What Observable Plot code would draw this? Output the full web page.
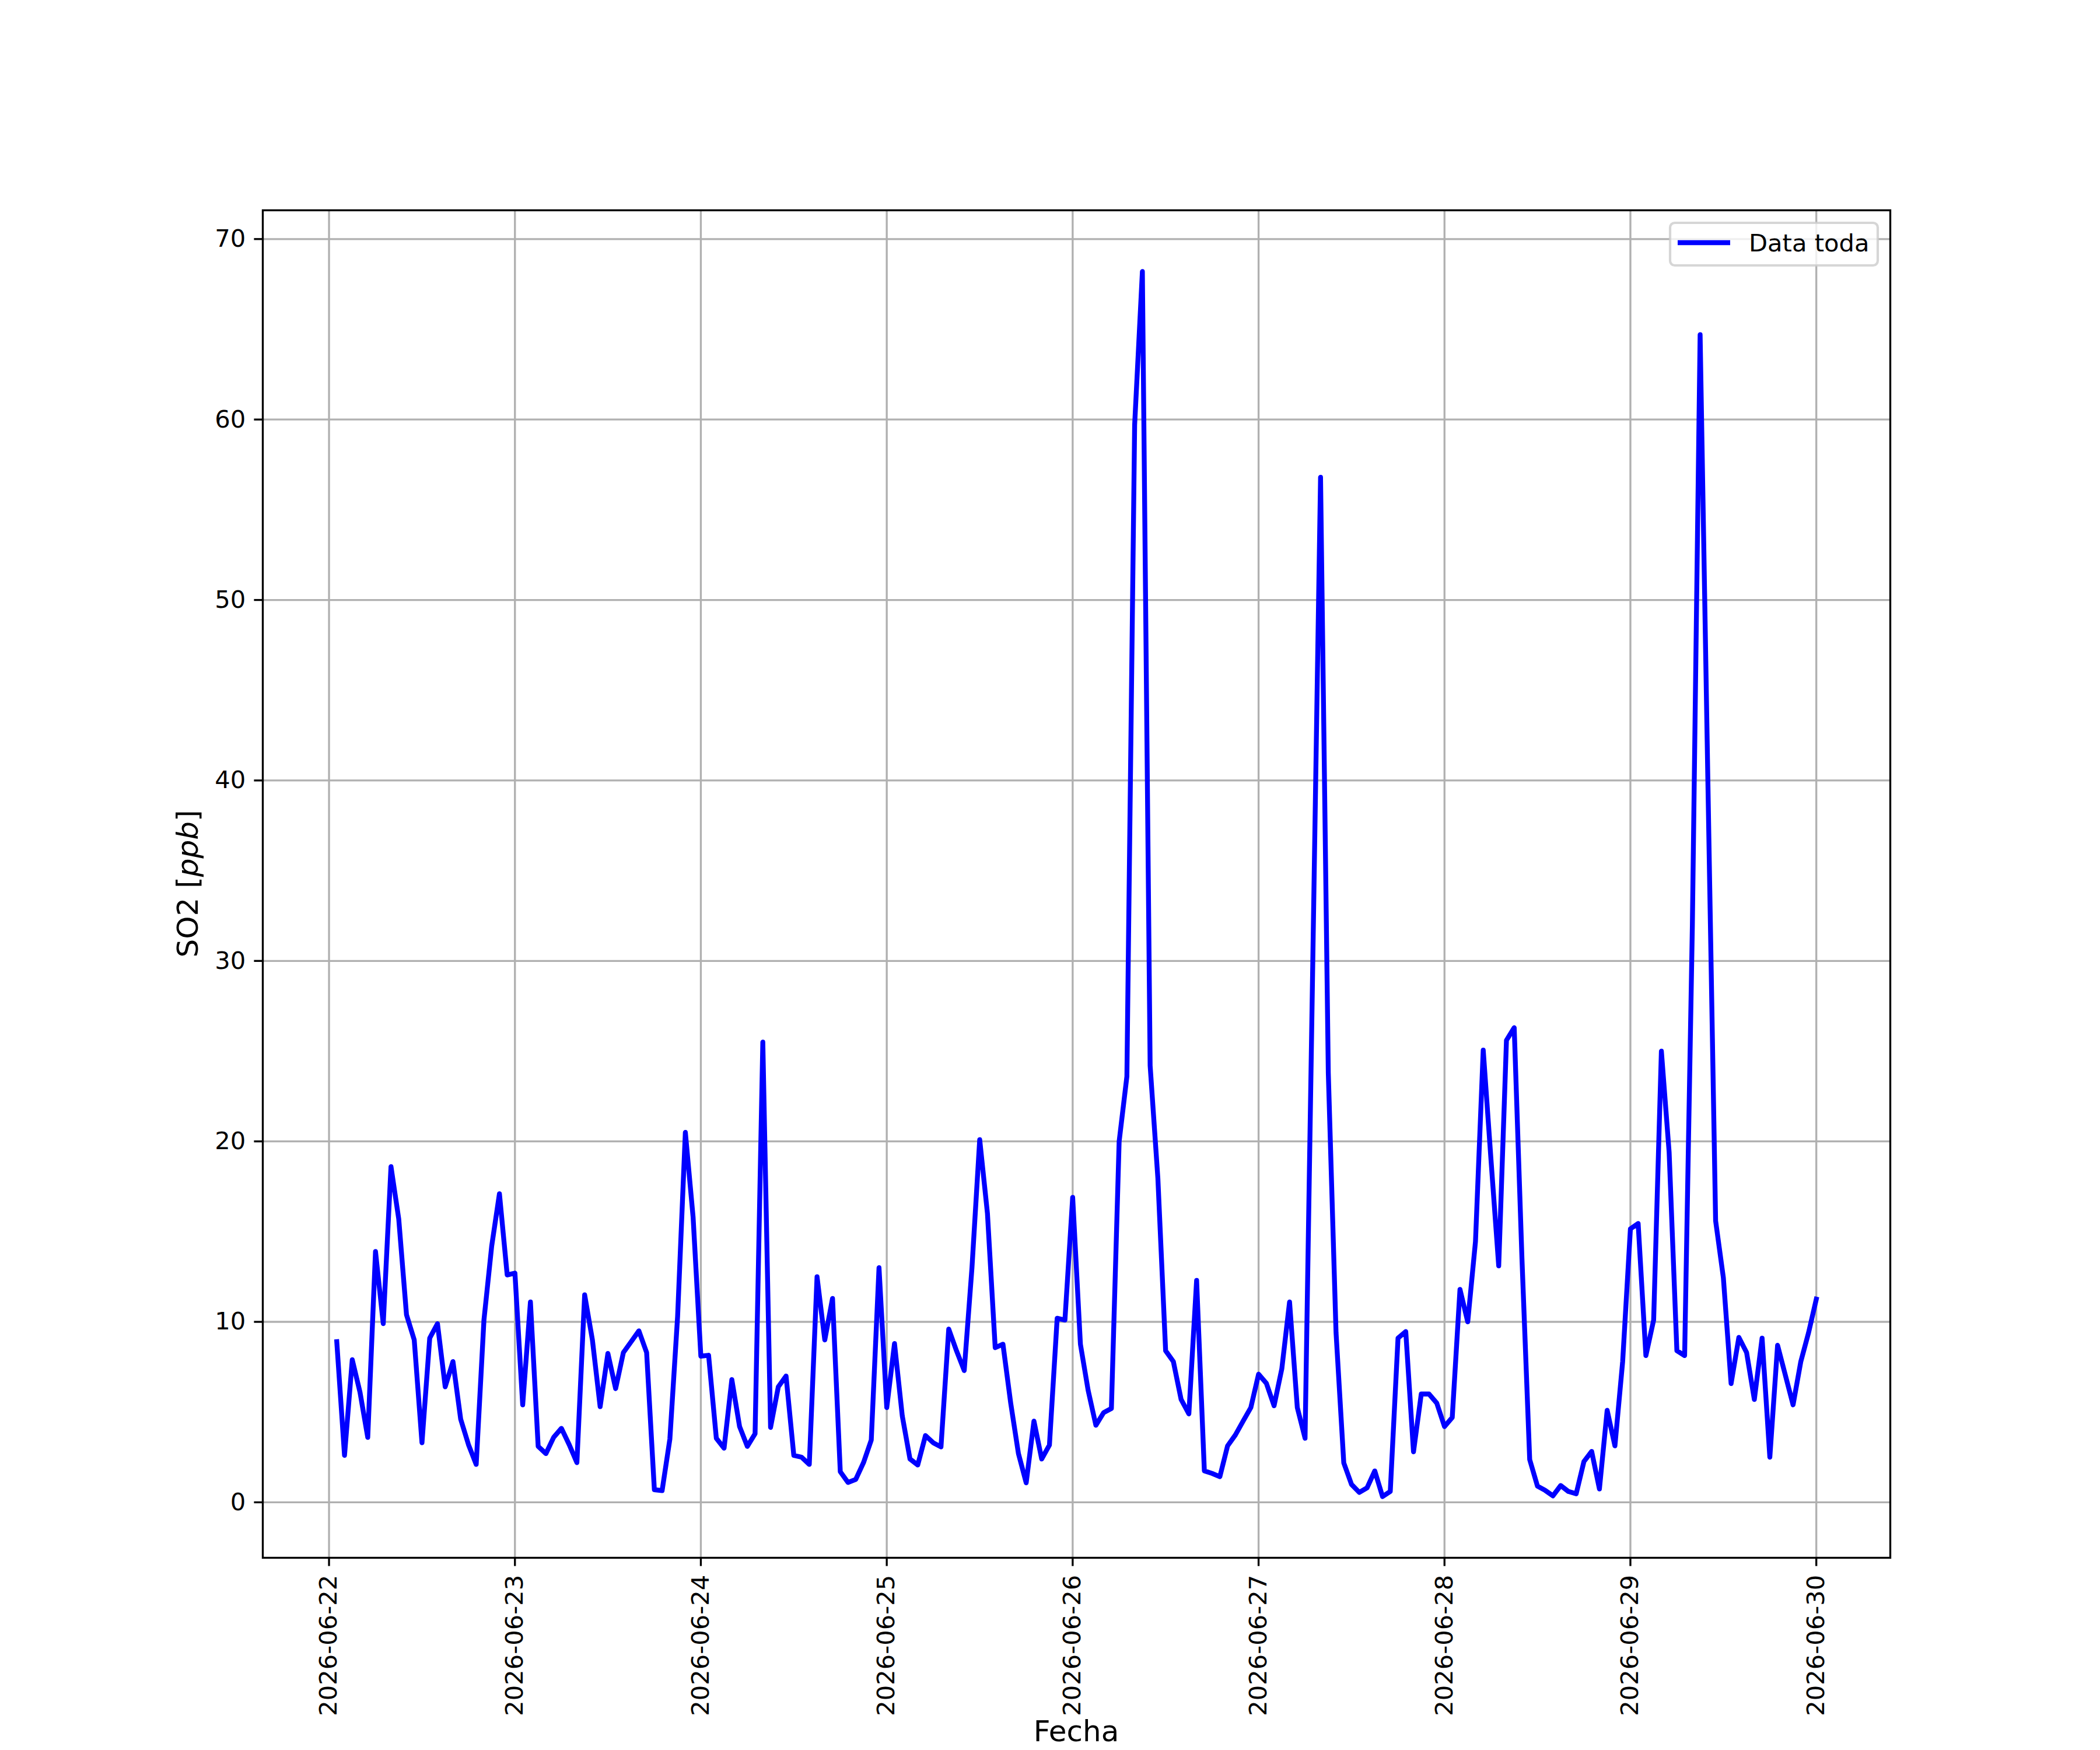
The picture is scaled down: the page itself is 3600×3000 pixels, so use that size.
<!DOCTYPE html>
<html>
<head>
<meta charset="utf-8">
<script src="https://cdn.jsdelivr.net/npm/d3@7"></script>
<script src="https://cdn.jsdelivr.net/npm/@observablehq/plot@0.6"></script>
<style>
  html, body { margin: 0; padding: 0; background: #ffffff; }
  #chart svg { display: block; }
</style>
</head>
<body>
<div id="chart"></div>
<script>
// Hourly SO2 readings, first reading at 2026-06-22 01:00 (UTC), one per hour
const startTime = "2026-06-22T01:00:00Z";
const day1 = [8.9, 2.6, 7.9, 6.1, 3.6, 13.9, 9.9, 18.6, 15.7, 10.4, 9.0, 3.3, 9.1, 9.9, 6.4, 7.8, 4.6, 3.2, 2.1, 10.1, 14.2, 17.1, 12.6, 12.7];
const day2 = [5.4, 11.1, 3.1, 2.7, 3.6, 4.1, 3.2, 2.2, 11.5, 9.0, 5.3, 8.25, 6.3, 8.3, 8.9, 9.5, 8.3, 0.7, 0.65, 3.5, 10.3, 20.5, 15.8, 8.1];
const day3 = [8.15, 3.55, 3.0, 6.8, 4.2, 3.1, 3.8, 25.5, 4.15, 6.4, 7.0, 2.6, 2.5, 2.1, 12.5, 9.0, 11.3, 1.7, 1.1, 1.27, 2.2, 3.45, 13.0, 5.25];
const day4 = [8.8, 4.8, 2.4, 2.07, 3.7, 3.3, 3.07, 9.6, 8.4, 7.3, 13.0, 20.1, 16.0, 8.57, 8.76, 5.5, 2.7, 1.08, 4.5, 2.4, 3.17, 10.2, 10.1, 16.9];
const day5 = [8.76, 6.2, 4.27, 4.97, 5.2, 20.0, 23.6, 59.7, 68.2, 24.2, 17.95, 8.4, 7.8, 5.7, 4.9, 12.3, 1.74, 1.6, 1.42, 3.13, 3.73, 4.5, 5.25, 7.1];
const day6 = [6.6, 5.35, 7.4, 11.1, 5.25, 3.55, 30.0, 56.8, 23.8, 9.4, 2.18, 0.99, 0.55, 0.8, 1.74, 0.32, 0.6, 9.1, 9.46, 2.8, 6.0, 6.0, 5.5, 4.2];
const day7 = [4.7, 11.8, 10.0, 14.45, 25.06, 19.0, 13.1, 25.6, 26.3, 13.5, 2.37, 0.9, 0.66, 0.36, 0.93, 0.6, 0.47, 2.26, 2.82, 0.74, 5.1, 3.13, 7.8, 15.15];
const day8 = [15.45, 8.13, 10.1, 25.0, 19.4, 8.4, 8.13, 32.0, 64.7, 40.0, 15.6, 12.45, 6.58, 9.14, 8.3, 5.7, 9.1, 2.5, 8.7, 7.05, 5.4, 7.8, 9.4, 11.26];

const xTickLabels = ["2026-06-22", "2026-06-23", "2026-06-24", "2026-06-25", "2026-06-26", "2026-06-27", "2026-06-28", "2026-06-29", "2026-06-30"];
const yTickValues = [0, 10, 20, 30, 40, 50, 60, 70];
const seriesName = "Data toda";
const xLabel = "Fecha";

// ---- build table ----
const so2 = [...day1, ...day2, ...day3, ...day4, ...day5, ...day6, ...day7, ...day8];
const t0 = Date.parse(startTime);
const data = so2.map((v, i) => ({ t: new Date(t0 + i * 3600e3), v }));
const xTicks = xTickLabels.map(s => new Date(s + "T00:00:00Z"));

// matplotlib-like 5% auto margins
const tMin = d3.min(data, d => +d.t), tMax = d3.max(data, d => +d.t);
const tPad = (tMax - tMin) * 0.05;
const vMin = d3.min(so2), vMax = d3.max(so2);
const vPad = (vMax - vMin) * 0.05;

const FONT = "'DejaVu Sans', sans-serif";
const W = 3600, H = 3000;
const mL = 450, mR = 360, mT = 360, mB = 330;
const tick = 14.6, lw = 3.33, lineW = 8.33;

const svg = Plot.plot({
  width: W, height: H,
  marginLeft: mL, marginRight: mR, marginTop: mT, marginBottom: mB,
  style: { fontFamily: FONT, fontSize: "41.67px", background: "#ffffff", color: "#000000" },
  x: { type: "utc", domain: [new Date(tMin - tPad), new Date(tMax + tPad)] },
  y: { domain: [vMin - vPad, vMax + vPad] },
  marks: [
    Plot.gridX(xTicks, { stroke: "#b0b0b0", strokeOpacity: 1, strokeWidth: lw }),
    Plot.gridY(yTickValues, { stroke: "#b0b0b0", strokeOpacity: 1, strokeWidth: lw }),
    Plot.lineY(data, { x: "t", y: "v", stroke: "#0000ff", strokeWidth: lineW, strokeLinejoin: "round", strokeLinecap: "square" }),
    Plot.frame({ stroke: "#000000", strokeWidth: lw }),
    Plot.axisX(xTicks, {
      tickFormat: d3.utcFormat("%Y-%m-%d"), tickRotate: -90, tickSize: tick, tickPadding: tick,
      strokeWidth: lw, stroke: "#000000", fontSize: 41.67, fill: "#000000", label: null
    }),
    Plot.axisY(yTickValues, {
      tickFormat: d => String(d), tickSize: tick, tickPadding: tick,
      strokeWidth: lw, stroke: "#000000", fontSize: 41.67, fill: "#000000", label: null
    })
  ]
});

const root = d3.select(svg);

// x axis label
root.append("text")
  .attr("x", mL + (W - mL - mR) / 2).attr("y", 2985)
  .attr("text-anchor", "middle")
  .attr("font-family", FONT).attr("font-size", 50).attr("fill", "#000")
  .text(xLabel);

// y axis label: SO2 [ppb] with italic ppb
const yl = root.append("text")
  .attr("transform", `translate(339,${mT + (H - mT - mB) / 2}) rotate(-90)`)
  .attr("text-anchor", "middle")
  .attr("font-family", FONT).attr("font-size", 50).attr("fill", "#000");
yl.append("tspan").text("SO2 [");
yl.append("tspan").attr("font-style", "italic").text("ppb");
yl.append("tspan").text("]");

// legend (upper right)
const lg = root.append("g");
lg.append("rect")
  .attr("x", 2863).attr("y", 382).attr("width", 356).attr("height", 73)
  .attr("rx", 8).attr("ry", 8)
  .attr("fill", "#ffffff").attr("fill-opacity", 0.8)
  .attr("stroke", "#cccccc").attr("stroke-opacity", 0.8).attr("stroke-width", 4.17);
lg.append("line")
  .attr("x1", 2876).attr("x2", 2966).attr("y1", 416).attr("y2", 416)
  .attr("stroke", "#0000ff").attr("stroke-width", lineW).attr("stroke-linecap", "butt");
lg.append("text")
  .attr("x", 2998).attr("y", 431)
  .attr("text-anchor", "start")
  .attr("font-family", FONT).attr("font-size", 41.67).attr("fill", "#000")
  .text(seriesName);

document.getElementById("chart").appendChild(svg);
</script>
</body>
</html>
